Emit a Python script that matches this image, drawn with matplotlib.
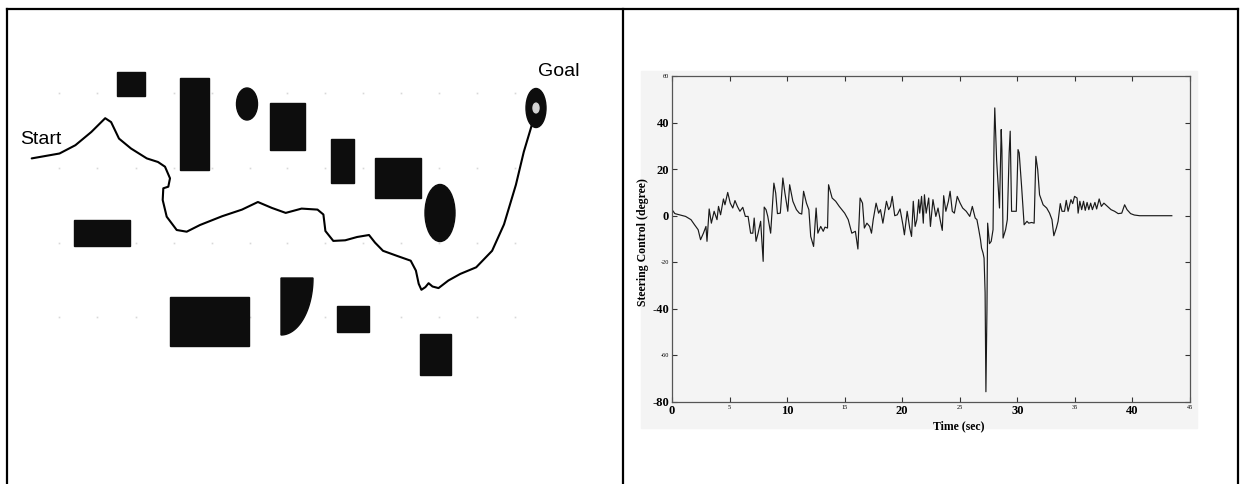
import numpy as np
import matplotlib
matplotlib.use('Agg')
import matplotlib.pyplot as plt
from matplotlib.patches import Rectangle, Ellipse, Polygon

# left panel: obstacle map, in picture pixels (x, y from top)
rects = [(117, 72, 28, 24), (180, 78, 29, 92), (270, 103, 35, 47), (331, 139, 23, 44),
         (375, 158, 46, 40), (74, 220, 56, 26), (170, 297, 79, 49), (337, 306, 32, 26),
         (420, 334, 31, 41)]
ellipses = [(247, 104, 21, 32), (440, 213, 30, 57)]
quarter = (281, 278, 32, 57)
goal = (536, 108, 20, 39)
path_x = [31.7, 59.5, 75.4, 91.3, 105.2, 111.1, 119, 131, 146.8, 158, 165, 170, 168.3,
          163.3, 162.7, 166.7, 176.7, 186.7, 200, 222.2, 242, 257.9, 271.8, 285.7, 301.6,
          317.5, 323.4, 325.4, 333.3, 345.2, 357.1, 369, 375, 383, 396.8, 410.7, 415.9,
          418.7, 421.4, 425.4, 428.6, 432.5, 438.5, 448.4, 460.3, 476.2, 492.1, 504,
          515.9, 523.8, 531.7]
path_y = [158.4, 153.5, 145.2, 132, 118.2, 122.1, 138.6, 148.5, 158.4, 162, 166.7, 178.3,
          186.7, 188.3, 200, 216.7, 230, 231.7, 225, 216.2, 209.6, 202, 207.9, 212.9, 208.6,
          209.6, 214.5, 231, 240.9, 240.3, 237, 235, 242.6, 250.8, 255.8, 260.7, 270.6,
          283.8, 289.8, 287.1, 283.2, 286.5, 288.1, 280.5, 273.9, 267.3, 250.8, 224.4,
          184.8, 151.8, 125.4]
dots_x = [59, 97, 136, 174, 212, 250, 287, 325, 363, 401, 439, 477, 515]
dots_y = [93, 168, 243, 317]

# right panel: steering control vs time
time_s = [0.00, 0.25, 1.18, 1.65, 1.96, 2.27, 2.48, 2.73, 2.95, 3.04, 3.23, 3.42, 3.66,
          3.91, 4.04, 4.22, 4.47, 4.60, 4.84, 5.06, 5.28, 5.47, 5.68, 5.90, 6.15, 6.37,
          6.61, 6.83, 7.02, 7.14, 7.30, 7.48, 7.70, 7.92, 8.01, 8.17, 8.32, 8.57, 8.85,
          9.01, 9.16, 9.41, 9.63, 9.81, 10.06, 10.22, 10.50, 10.81, 11.06, 11.27, 11.43,
          11.68, 11.89, 12.05, 12.30, 12.52, 12.67, 12.92, 13.14, 13.29, 13.51, 13.60,
          13.91, 14.22, 14.53, 15.00, 15.31, 15.62, 15.93, 16.15, 16.34, 16.55, 16.71,
          16.93, 17.17, 17.33, 17.48, 17.73, 17.95, 18.11, 18.32, 18.63, 18.82, 18.98,
          19.13, 19.35, 19.57, 19.81, 20.06, 20.19, 20.43, 20.65, 20.81, 20.96, 21.12,
          21.27, 21.43, 21.52, 21.68, 21.83, 21.93, 22.08, 22.30, 22.45, 22.67, 22.92,
          23.11, 23.32, 23.48, 23.60, 23.79, 24.01, 24.16, 24.35, 24.53, 24.78, 25.03,
          25.25, 25.56, 25.87, 26.09, 26.34, 26.49, 26.65, 26.80, 26.89, 27.02, 27.11,
          27.20, 27.27, 27.36, 27.42, 27.58, 27.73, 27.89, 27.98, 28.04, 28.20, 28.45,
          28.60, 28.66, 28.76, 28.98, 29.13, 29.29, 29.38, 29.50, 29.91, 30.06, 30.16,
          30.37, 30.59, 30.84, 30.99, 31.24, 31.46, 31.61, 31.77, 31.93, 32.24, 32.55,
          32.80, 33.01, 33.17, 33.39, 33.54, 33.73, 33.88, 34.10, 34.25, 34.41, 34.66,
          34.81, 34.97, 35.19, 35.28, 35.43, 35.59, 35.75, 35.90, 36.06, 36.21, 36.37,
          36.52, 36.74, 36.89, 37.11, 37.30, 37.52, 37.83, 38.14, 38.45, 38.76, 39.07,
          39.32, 39.53, 39.84, 40.16, 40.62, 43.42]
steer_deg = [2.6, 0.9, -0.3, -1.7, -3.9, -6.0, -10.3, -7.5, -4.6, -11.0, 2.9, -3.2, 1.9,
             -1.7, 4.0, 0.4, 7.2, 4.7, 10.0, 5.4, 3.3, 6.5, 4.0, 1.9, 3.6, -0.3,
             -0.3, -7.5, -7.5, -1.0, -11.0, -7.5, -2.4, -19.6, 3.7, 2.6, -0.3, -7.5, 14.0,
             9.7, 0.9, 1.1, 16.2, 9.7, 1.9, 13.3, 6.2, 2.6, 1.1, 0.7, 10.5,
             5.4, 2.6, -8.9, -13.2, 3.3, -7.5, -4.6, -6.7, -4.9, -5.3, 13.3,
             7.6, 6.2, 4.0, 1.1, -1.7, -7.5, -6.7, -14.3, 7.6, 5.4, -5.3,
             -3.2, -4.6, -7.5, -1.7, 5.4, 1.1, 2.6, -3.2, 6.2, 2.6, 4.0,
             8.3, 0.0, 0.4, 2.9, -3.9, -8.2, 1.9, -5.3, -8.9, 6.2, -4.6,
             -1.7, 6.9, 1.1, 8.3, -3.2, 9.0, 1.1, 7.6, -4.6, 6.9, -0.3,
             3.3, -2.4, -6.3, 8.6, 1.9, 6.2, 10.5, 1.9, 1.1, 8.3, 5.4,
             3.3, 1.9, -0.3, 4.0, -1.0, -1.7, -6.0, -10.3, -13.9, -16.0, -18.2,
             -33.0, -75.6, -40.4, -3.2, -12.0, -11.0, -6.0, 33.4, 46.3, 24.0, 3.3,
             37.0, 28.4, -9.6, -6.0, -1.7, 27.0, 36.3, 1.9, 1.9, 28.4, 27.0,
             12.6, -3.9, -2.4, -3.2, -2.9, -3.2, 25.5, 19.8, 9.0, 4.7, 3.3,
             1.1, -1.7, -8.6, -5.3, -2.4, 5.2, 1.9, 1.9, 6.6, 1.9, 6.9,
             5.2, 8.3, 7.6, 1.1, 6.2, 2.6, 6.2, 2.3, 5.7, 2.6, 5.4,
             2.6, 5.7, 2.9, 7.2, 4.0, 5.4, 4.0, 2.6, 1.9, 0.9, 1.1,
             4.7, 2.6, 0.9, 0.3, 0.0, 0.0]
x_ticks = [0, 5, 10, 15, 20, 25, 30, 35, 40, 45]
y_ticks = [-80, -60, -40, -20, 0, 20, 40, 60]
y_big = [40, 20, 0, -40, -80]

W, H = 1240, 484
fig = plt.figure(figsize=(W / 100, H / 100), dpi=100)

# canvas in pixel coords for frame + map
cv = fig.add_axes([0, 0, 1, 1])
cv.set_xlim(0, W)
cv.set_ylim(H, 0)
cv.axis('off')

cv.plot([7, 1238], [8.5, 8.5], color='black', lw=1.6)
for xl in [7, 622.5, 1238]:
    cv.plot([xl, xl], [8.5, H], color='black', lw=1.6)

gx, gy = np.meshgrid(dots_x, dots_y)
cv.plot(gx.ravel(), gy.ravel(), 's', color='#d8d8d8', ms=1.2, mew=0, zorder=0.5)

for x, y, w, h in rects:
    cv.add_patch(Rectangle((x, y), w, h, color='#0d0d0d', zorder=1))
for cx, cy, w, h in ellipses:
    cv.add_patch(Ellipse((cx, cy), w, h, color='#0d0d0d', zorder=1))

qx, qy, rx, ry = quarter
th = np.linspace(0, np.pi / 2, 40)
pts = [(qx, qy)] + list(zip(qx + rx * np.cos(th), qy + ry * np.sin(th)))
cv.add_patch(Polygon(pts, closed=True, color='#0d0d0d', zorder=1))

cv.plot(path_x, path_y, color='black', lw=1.5, solid_capstyle='round', zorder=2)

gcx, gcy, gw, gh = goal
cv.add_patch(Ellipse((gcx, gcy), gw, gh, color='#0d0d0d', zorder=3))
cv.add_patch(Ellipse((gcx, gcy), gw * 0.3, gh * 0.25, color='#d4d4d4', zorder=3))

cv.text(20.5, 144, 'Start', fontsize=14, family='Liberation Sans', ha='left', va='baseline')
cv.text(538, 76, 'Goal', fontsize=14, family='Liberation Sans', ha='left', va='baseline')

# grey backdrop of the plot picture
cv.add_patch(Rectangle((641, 71), 556, 357, color='#f4f4f4', zorder=0))

ax = fig.add_axes([672 / W, (H - 402) / H, 518 / W, 326 / H])
ax.set_facecolor('#f4f4f4')
ax.plot(time_s, steer_deg, color='#1a1a1a', lw=0.85)
ax.set_xlim(0, 45)
ax.set_ylim(-80, 60)
ax.set_xticks(x_ticks)
ax.set_yticks(y_ticks)
ax.set_xticklabels([str(v) for v in x_ticks])
ax.set_yticklabels([str(v) for v in y_ticks])
for lab, v in zip(ax.get_xticklabels(), x_ticks):
    lab.set_family('Liberation Serif')
    if v % 10 == 0:
        lab.set_fontsize(9)
        lab.set_fontweight('bold')
    else:
        lab.set_fontsize(4.5)
for lab, v in zip(ax.get_yticklabels(), y_ticks):
    lab.set_family('Liberation Serif')
    if v in y_big:
        lab.set_fontsize(9)
        lab.set_fontweight('bold')
    else:
        lab.set_fontsize(4.5)
ax.tick_params(direction='in', top=True, right=True, length=3.5, width=0.8,
               color='#333333', pad=2)
for s in ax.spines.values():
    s.set_color('#555555')
    s.set_linewidth(0.9)

ax.set_xlabel('Time (sec)', family='Liberation Serif', fontsize=8.5, fontweight='bold', labelpad=0)
ax.xaxis.set_label_coords(0.554, -0.055)
ax.set_ylabel('Steering Control (degree)', family='Liberation Serif', fontsize=8.5,
              fontweight='bold', labelpad=2)
ax.yaxis.set_label_coords(-0.045, 0.49)

fig.savefig('out.png', dpi=100)
